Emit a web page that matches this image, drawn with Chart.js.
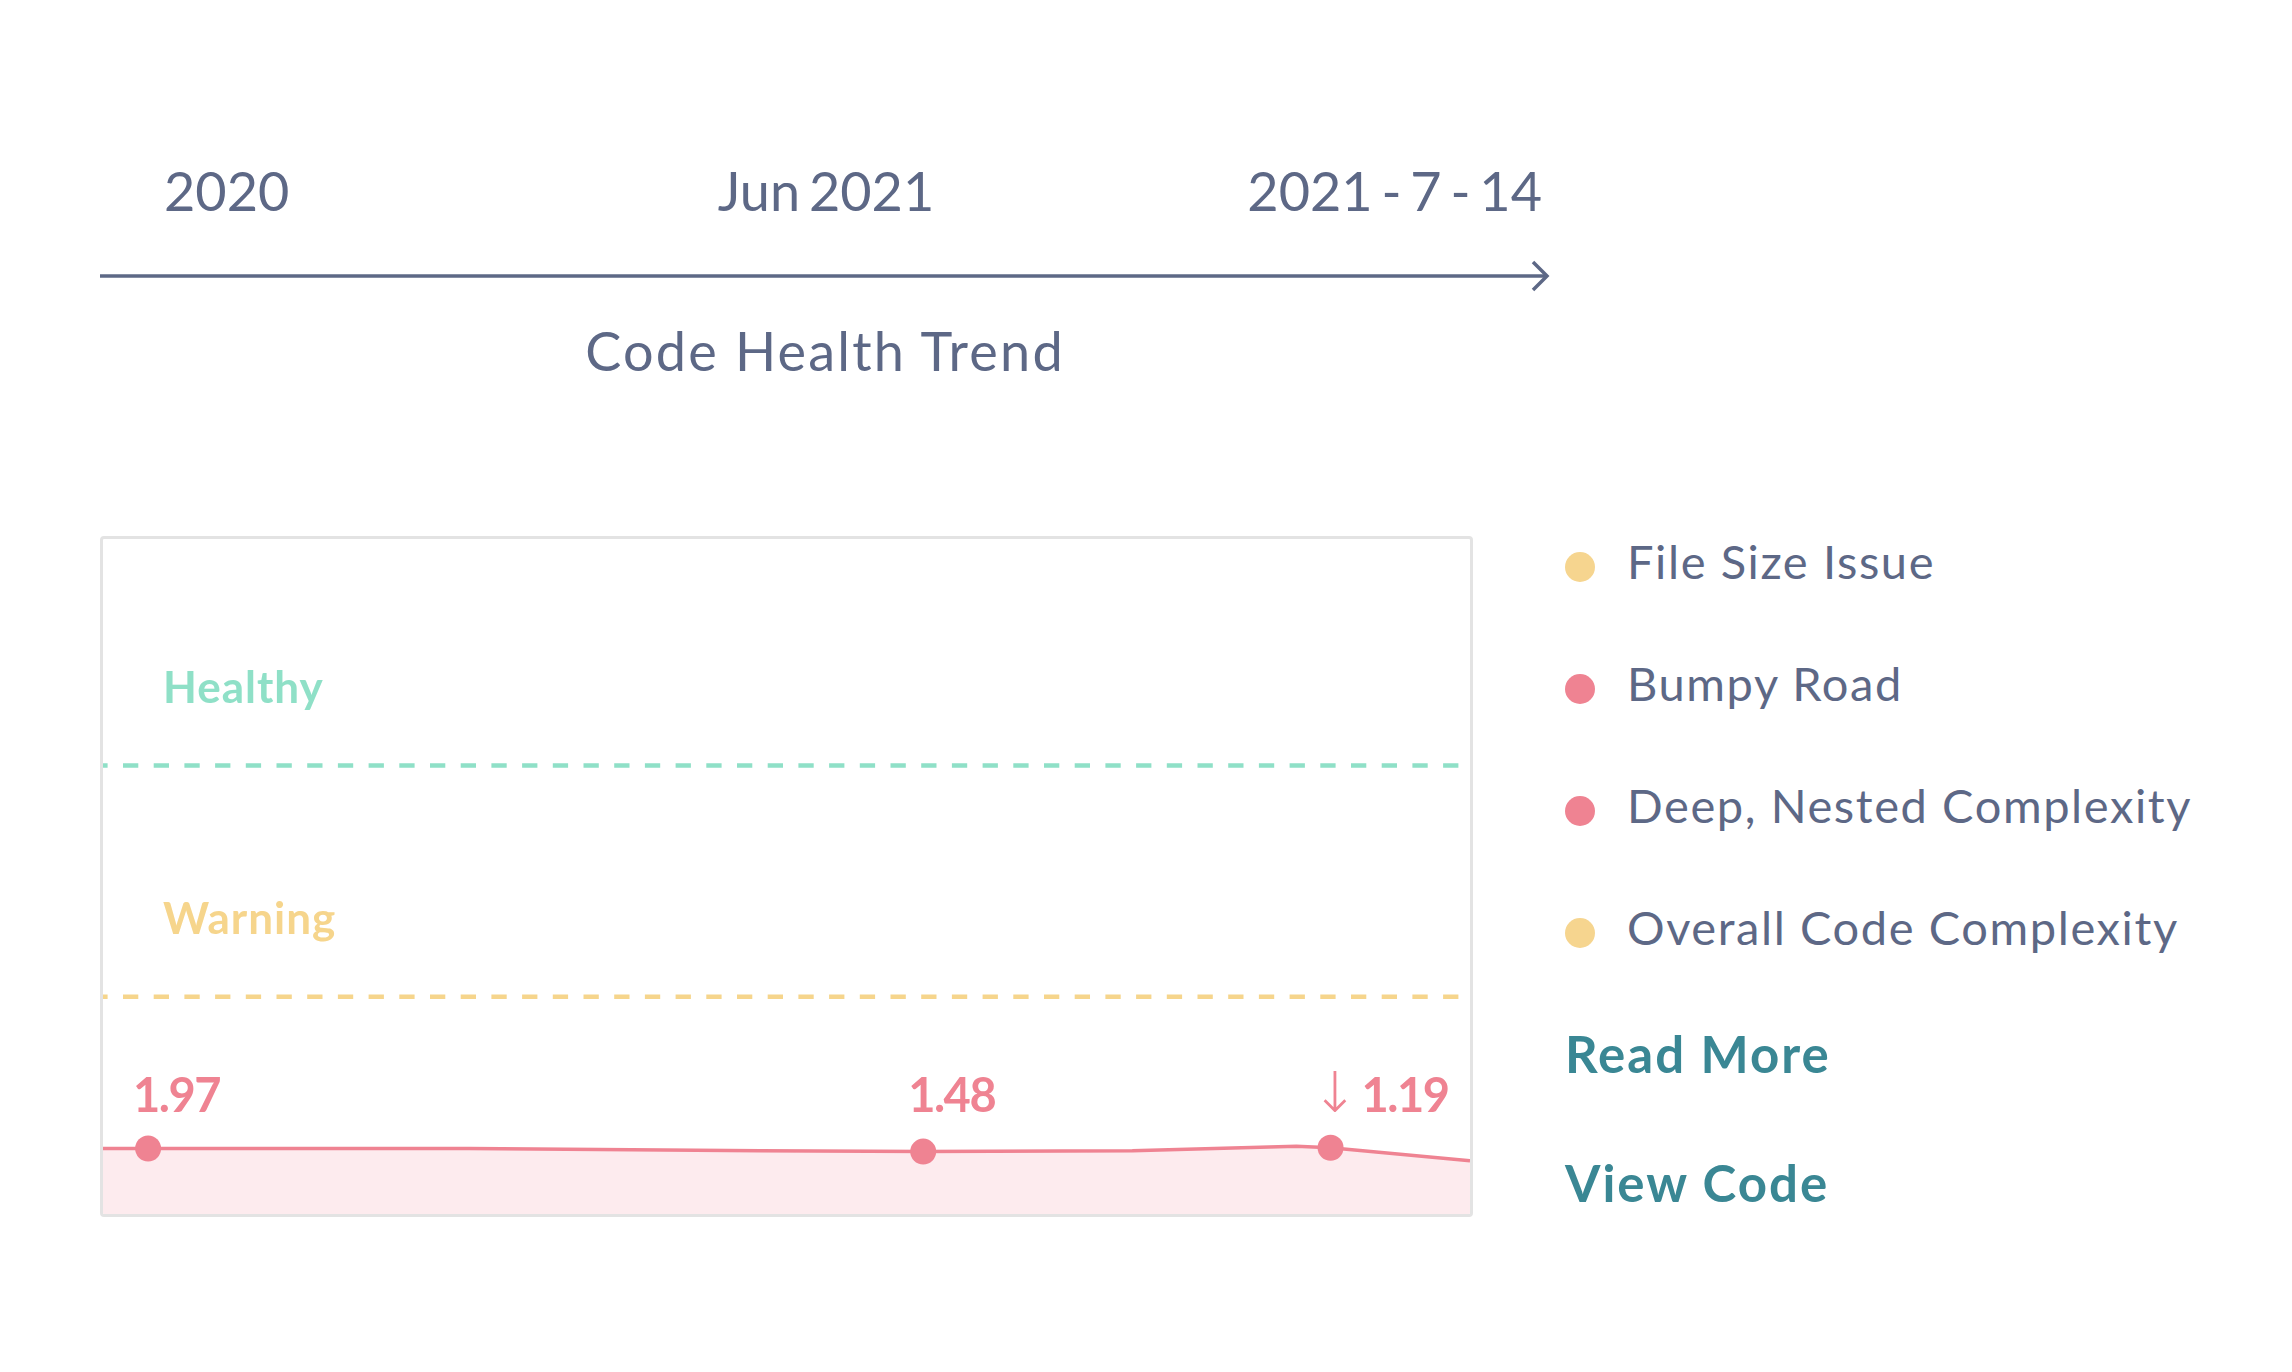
<!DOCTYPE html>
<html>
<head>
<meta charset="utf-8">
<script src="https://cdn.jsdelivr.net/npm/chart.js@4.4.1/dist/chart.umd.min.js"></script>
<style>
  body { margin:0; background:#fff; width:2292px; height:1372px; position:relative; overflow:hidden;
         font-family: Lato, "Open Sans", sans-serif; color:#5d6886; }
  .txt { position:absolute; line-height:1; white-space:nowrap; }
  .head { font-size:54px; top:164px; word-spacing:-5px; }
  #arrow { position:absolute; left:100px; top:260px; }
  #box { position:absolute; left:100px; top:536px; width:1373px; height:681px; box-sizing:border-box;
         border:3px solid #e3e3e3; border-radius:4px; overflow:hidden; }
  #box canvas { display:block; }
  .leg { font-size:47px; left:1627px; letter-spacing:1.6px; }
  .dot { position:absolute; left:1565px; width:30px; height:30px; border-radius:50%; }
  .link { font-size:51px; font-weight:700; color:#3a8794; left:1565px; letter-spacing:2px; }
</style>
</head>
<body>
<div class="txt head" id="t0" style="left:164px"></div>
<div class="txt head" id="t1" style="left:826px;transform:translateX(-50%)"></div>
<div class="txt head" id="t2" style="right:750px"></div>
<svg id="arrow" width="1460" height="32">
  <line x1="0" y1="16" x2="1447" y2="16" stroke="#5d6886" stroke-width="3.5"/>
  <polyline points="1433,2 1447,16 1433,30" fill="none" stroke="#5d6886" stroke-width="3.5"/>
</svg>
<div class="txt" id="title" style="font-size:54px;left:825px;top:324px;transform:translateX(-50%);letter-spacing:2.2px"></div>

<div id="box"><canvas id="c" width="1367" height="675"></canvas></div>
<div id="legend"></div>

<script>
// timeline + title
const timelineTicks = ["2020", "Jun 2021", "2021 - 7 - 14"];
const chartTitle = "Code Health Trend";

// code health line, x in % of the period shown
const healthX = [0, 3.3, 26.8, 48.1, 60.0, 75.3, 87.3, 89.8, 100];
const healthY = [2.03, 2.03, 2.03, 2.0, 1.99, 2.0, 2.06, 2.04, 1.87];

// scores printed above the marked points
const scoreIndex = [1, 4, 7];
const scoreValues = [1.97, 1.48, 1.19];
const scoreTrend = ["", "", "↓"];

// thresholds
const thresholdNames = ["Healthy", "Warning"];
const thresholdValues = [7, 4];
const thresholdColors = ["#8fe0c7", "#f6d58c"];

// legend
const legendLabels = ["File Size Issue", "Bumpy Road", "Deep, Nested Complexity", "Overall Code Complexity"];
const legendColors = ["#f6d58f", "#ef8392", "#ef8392", "#f6d58f"];
const linkLabels = ["Read More", "View Code"];

timelineTicks.forEach((t, i) => document.getElementById("t" + i).textContent = t);
document.getElementById("title").textContent = chartTitle;

var legend = document.getElementById("legend");
legendLabels.forEach(function (lab, i) {
  var cy = 567 + i * 122;
  var d = document.createElement("div");
  d.className = "dot";
  d.style.top = (cy - 15) + "px";
  d.style.background = legendColors[i];
  legend.appendChild(d);
  var t = document.createElement("div");
  t.className = "txt leg";
  t.style.top = (cy - 29) + "px";
  t.textContent = lab;
  legend.appendChild(t);
});
linkLabels.forEach(function (lab, i) {
  var t = document.createElement("div");
  t.className = "txt link";
  t.style.top = (1079 + i * 129 - 51) + "px";
  t.textContent = lab;
  legend.appendChild(t);
});

var pink = "#ef8392";
var boldFont = "bold 47px Lato, 'Open Sans', sans-serif";

var labelPlugin = {
  id: "labels",
  afterDatasetsDraw(chart) {
    var ctx = chart.ctx;
    ctx.save();
    // threshold names
    ctx.font = "bold 44px Lato, 'Open Sans', sans-serif";
    ctx.letterSpacing = "1px";
    ctx.textAlign = "left";
    ctx.textBaseline = "alphabetic";
    thresholdNames.forEach(function (n, i) {
      ctx.fillStyle = thresholdColors[i];
      ctx.fillText(n, 60, chart.scales.y.getPixelForValue(thresholdValues[i]) - 63);
    });
    // scores, all on one baseline above the line
    var meta = chart.getDatasetMeta(0);
    var base = chart.scales.y.getPixelForValue(healthY[0]) - 37;
    ctx.fillStyle = pink;
    ctx.letterSpacing = "-1.5px";
    scoreIndex.forEach(function (idx, i) {
      var p = meta.data[idx];
      var x = p.x - 15;
      if (scoreTrend[i]) {
        ctx.font = "200 56px 'DejaVu Sans', sans-serif";
        ctx.fillText(scoreTrend[i], x - 4, base);
        x += 46;
      }
      ctx.font = boldFont;
      ctx.fillText(scoreValues[i].toFixed(2), x, base);
    });
    ctx.restore();
  }
};

var radii = healthX.map((x, i) => scoreIndex.indexOf(i) >= 0 ? 13 : 0);

new Chart(document.getElementById("c"), {
  type: "line",
  data: {
    datasets: [
      {
        data: healthX.map((x, i) => ({ x: x, y: healthY[i] })),
        borderColor: pink,
        borderWidth: 3.5,
        backgroundColor: "#fdebee",
        fill: "start",
        pointRadius: radii,
        pointBackgroundColor: pink,
        pointBorderWidth: 0,
        tension: 0
      }
    ].concat(thresholdValues.map((v, i) => ({
      data: [{ x: 0, y: v }, { x: 100, y: v }],
      borderColor: thresholdColors[i],
      borderWidth: 4.5,
      borderDash: [15.3, 15.4],
      borderDashOffset: 10.7,
      pointRadius: 0,
      fill: false
    })))
  },
  options: {
    responsive: false,
    animation: false,
    layout: { padding: 0 },
    plugins: { legend: { display: false }, tooltip: { enabled: false } },
    scales: {
      x: { type: "linear", min: 0, max: 100, display: false },
      y: { min: 1.18, max: 9.94, display: false }
    }
  },
  plugins: [labelPlugin]
});
</script>
</body>
</html>
